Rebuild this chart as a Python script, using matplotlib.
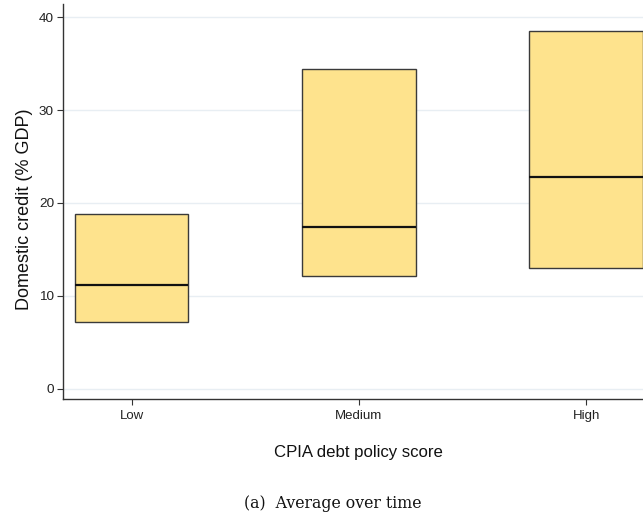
import matplotlib
matplotlib.use("Agg")
import matplotlib.pyplot as plt

# Domestic credit (% GDP) by CPIA debt policy score group
categories = ["Low", "Medium", "High"]
lower_q = [7.2, 12.2, 13.0]
median = [11.15, 17.4, 22.8]
upper_q = [18.8, 34.4, 38.5]
y_ticks = [0, 10, 20, 30, 40]

plt.rcParams["font.family"] = ["Liberation Sans", "DejaVu Sans"]

fig = plt.figure(figsize=(6.43, 5.16), dpi=100)
ax = fig.add_axes([63 / 643, 1 - 399 / 516, 1 - 63 / 643, (399 - 4) / 516])

pos = [1, 2, 3]
box_w = 0.5

heights = [u - l for u, l in zip(upper_q, lower_q)]
ax.bar(pos, heights, bottom=lower_q, width=box_w, color="#fee38d",
       edgecolor="#3a3a3a", linewidth=1.0, zorder=3)
for x, m in zip(pos, median):
    ax.plot([x - box_w / 2, x + box_w / 2], [m, m], color="#111111",
            linewidth=1.6, zorder=4, solid_capstyle="butt")

ax.set_xlim(0.698, 3.25)
ax.set_ylim(-1.08, 41.4)
ax.set_xticks(pos)
ax.set_xticklabels(categories, fontsize=9.5)
ax.set_yticks(y_ticks)
ax.set_yticklabels([str(v) for v in y_ticks], fontsize=9.7)

for y in y_ticks:
    ax.axhline(y, color="#e8eef3", linewidth=1.0, zorder=1)

for side in ("top", "right"):
    ax.spines[side].set_visible(False)
for side in ("left", "bottom"):
    ax.spines[side].set_color("#333333")
    ax.spines[side].set_linewidth(1.0)
ax.tick_params(axis="both", direction="out", length=4, width=0.8,
               color="#333333", labelcolor="#222222")
ax.tick_params(axis="y", pad=2.5)
ax.tick_params(axis="x", pad=4)

ax.set_ylabel("Domestic credit (% GDP)", fontsize=13, color="#111111",
              va="center")
ax.yaxis.set_label_coords((25 - 63) / 580, (399 - 209) / 395)
ax.set_xlabel("CPIA debt policy score", fontsize=12.1, color="#111111",
              va="center")
ax.xaxis.set_label_coords((358 - 63) / 580, (399 - 452) / 395)

fig.text(332.5 / 643, 1 - 503 / 516, "(a)  Average over time",
         ha="center", va="center", fontsize=11.3,
         family=["DejaVu Serif"], color="#111111")

fig.savefig("out.png", dpi=100)
